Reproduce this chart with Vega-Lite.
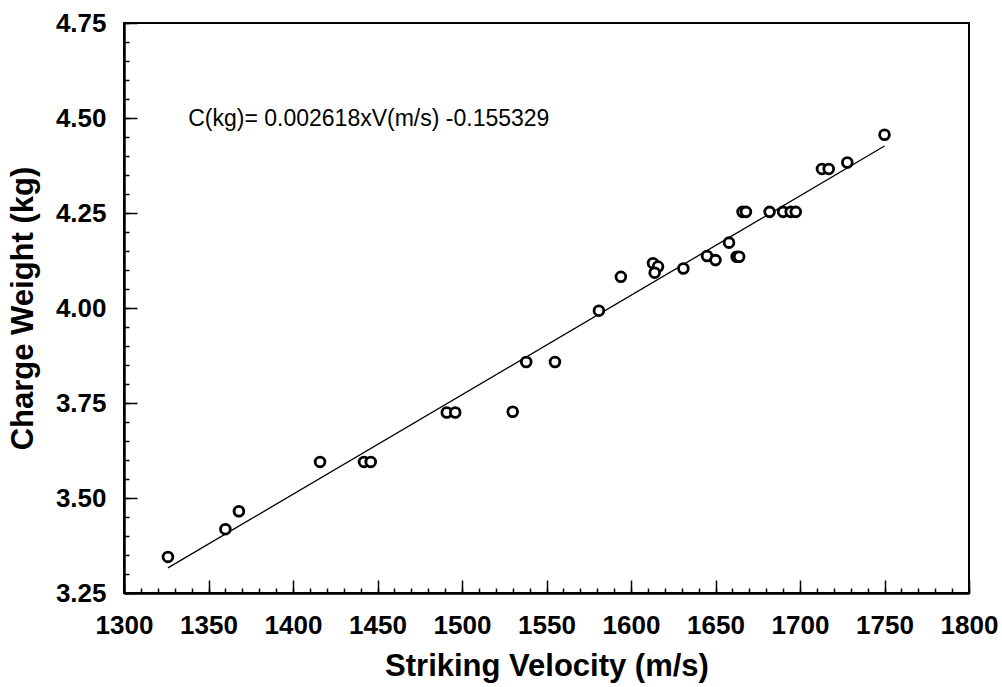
{
  "$schema": "https://vega.github.io/schema/vega-lite/v6.json",
  "width": 845,
  "height": 570,
  "autosize": {"type": "none"},
  "padding": {"left": 124, "top": 23, "right": 33, "bottom": 94},
  "background": "white",
  "config": {
    "view": {"stroke": "black", "strokeWidth": 2},
    "axis": {
      "grid": false,
      "domainColor": "black",
      "domainWidth": 2,
      "tickColor": "black",
      "tickWidth": 1.5,
      "labelColor": "black",
      "titleColor": "black",
      "labelFont": "Liberation Sans",
      "titleFont": "Liberation Sans",
      "labelFontWeight": "bold",
      "titleFontWeight": "bold",
      "labelFontSize": 26,
      "titleFontSize": 31
    }
  },
  "datasets": {
    "points": [
      {"V": 1326, "C": 3.345},
      {"V": 1360, "C": 3.418},
      {"V": 1368, "C": 3.465},
      {"V": 1416, "C": 3.595},
      {"V": 1442, "C": 3.595},
      {"V": 1446, "C": 3.595},
      {"V": 1491, "C": 3.725},
      {"V": 1496, "C": 3.725},
      {"V": 1530, "C": 3.727},
      {"V": 1538, "C": 3.858},
      {"V": 1555, "C": 3.858},
      {"V": 1581, "C": 3.993},
      {"V": 1594, "C": 4.082},
      {"V": 1613, "C": 4.118},
      {"V": 1616, "C": 4.109},
      {"V": 1614, "C": 4.093},
      {"V": 1631, "C": 4.104},
      {"V": 1645, "C": 4.137},
      {"V": 1650, "C": 4.126},
      {"V": 1658, "C": 4.172},
      {"V": 1662.5, "C": 4.135},
      {"V": 1664, "C": 4.135},
      {"V": 1666, "C": 4.253},
      {"V": 1668, "C": 4.253},
      {"V": 1682, "C": 4.253},
      {"V": 1690, "C": 4.253},
      {"V": 1694.5, "C": 4.253},
      {"V": 1697.5, "C": 4.253},
      {"V": 1713, "C": 4.366},
      {"V": 1717, "C": 4.366},
      {"V": 1728, "C": 4.383},
      {"V": 1750, "C": 4.456}
    ],
    "fit": [
      {"V": 1326, "C": 3.3161},
      {"V": 1750, "C": 4.4262}
    ],
    "note": [
      {"V": 1338, "C": 4.497, "label": "C(kg)= 0.002618xV(m/s) -0.155329"}
    ]
  },
  "resolve": {"axis": {"x": "independent", "y": "independent"}},
  "layer": [
    {
      "data": {"name": "fit"},
      "mark": {"type": "line", "color": "black", "strokeWidth": 1.3},
      "encoding": {
        "x": {
          "field": "V", "type": "quantitative",
          "scale": {"domain": [1300, 1800], "nice": false, "zero": false},
          "axis": {
            "orient": "bottom",
            "values": [1300, 1350, 1400, 1450, 1500, 1550, 1600, 1650, 1700, 1750, 1800],
            "format": "d",
            "tickSize": -13,
            "labelPadding": 32,
            "labelFlush": false,
            "title": "Striking Velocity (m/s)",
            "titlePadding": 13
          }
        },
        "y": {
          "field": "C", "type": "quantitative",
          "scale": {"domain": [3.25, 4.75], "nice": false, "zero": false},
          "axis": {
            "orient": "left",
            "values": [3.25, 3.5, 3.75, 4, 4.25, 4.5, 4.75],
            "format": ".2f",
            "tickSize": -13,
            "labelPadding": 31,
            "labelFlush": false,
            "title": "Charge Weight (kg)",
            "titlePadding": 16
          }
        }
      }
    },
    {
      "data": {"name": "points"},
      "mark": {"type": "point", "shape": "circle", "filled": true, "fill": "white", "stroke": "black", "strokeWidth": 2.8, "size": 95, "opacity": 1},
      "encoding": {
        "x": {
          "field": "V", "type": "quantitative",
          "axis": {
            "orient": "bottom",
            "values": [1300,1310,1320,1330,1340,1350,1360,1370,1380,1390,1400,1410,1420,1430,1440,1450,1460,1470,1480,1490,1500,1510,1520,1530,1540,1550,1560,1570,1580,1590,1600,1610,1620,1630,1640,1650,1660,1670,1680,1690,1700,1710,1720,1730,1740,1750,1760,1770,1780,1790,1800],
            "tickSize": -5,
            "labels": false,
            "title": null
          }
        },
        "y": {
          "field": "C", "type": "quantitative",
          "axis": {
            "orient": "left",
            "values": [3.25,3.3,3.35,3.4,3.45,3.5,3.55,3.6,3.65,3.7,3.75,3.8,3.85,3.9,3.95,4,4.05,4.1,4.15,4.2,4.25,4.3,4.35,4.4,4.45,4.5,4.55,4.6,4.65,4.7,4.75],
            "tickSize": -5,
            "labels": false,
            "title": null
          }
        }
      }
    },
    {
      "data": {"name": "note"},
      "mark": {"type": "text", "align": "left", "baseline": "middle", "font": "Liberation Sans", "fontSize": 23, "color": "black"},
      "encoding": {
        "x": {"field": "V", "type": "quantitative", "axis": null},
        "y": {"field": "C", "type": "quantitative", "axis": null},
        "text": {"field": "label"}
      }
    }
  ]
}
